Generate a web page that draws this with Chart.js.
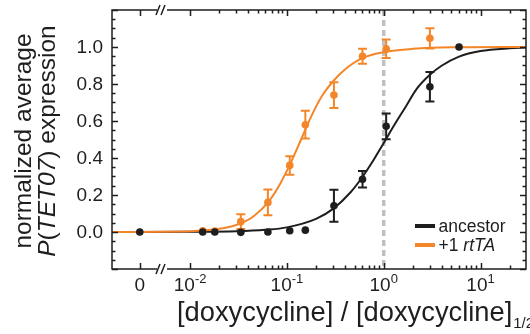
<!DOCTYPE html>
<html>
<head>
<meta charset="utf-8">
<script src="https://cdn.jsdelivr.net/npm/chart.js@4.4.1/dist/chart.umd.min.js"></script>
<style>
  html, body { margin: 0; padding: 0; background: #fff; }
</style>
</head>
<body>
<canvas id="chart" width="530" height="334"></canvas>
<script>
// x axis is log scaled with a break; the zero dose is parked left of the break
const ZERO_POS = 0.00302;
const X_MIN = 0.00156;
const X_MAX = 29.5;

const BLACK = '#1e1e1e';
const ORANGE = '#f4862a';
const FONT = "'Liberation Sans', Arial, sans-serif";

// measured points
const doses = [0, 0.0135, 0.018, 0.0334, 0.0636, 0.107, 0.155, 0.306, 0.604, 1.06, 3.0, 6.0];
const ancestor = [0, 0, 0, -0.002, 0, 0.007, 0.01, 0.142, 0.285, 0.571, 0.785, 1.0];
const ancestorErr = [0, 0, 0, 0, 0, 0, 0, 0.087, 0.045, 0.07, 0.08, 0];
const rtta = [null, 0.006, 0.005, 0.056, 0.16, 0.36, 0.58, 0.74, 0.95, 0.99, 1.047, null];
const rttaErr = [0, 0, 0, 0.04, 0.07, 0.05, 0.075, 0.07, 0.04, 0.05, 0.055, 0];

// fitted curves
const ancestorFitX = [0.00156, 0.01, 0.03, 0.06, 0.1, 0.2, 0.3, 0.45, 0.6, 0.8, 1.0, 1.3, 1.7, 2.2, 3.0, 4.0, 6.0, 10, 20, 29.5];
const ancestorFitY = [0, 0.001, 0.004, 0.012, 0.025, 0.071, 0.125, 0.212, 0.296, 0.396, 0.481, 0.582, 0.68, 0.775, 0.85, 0.9, 0.948, 0.978, 0.993, 0.997];
const rttaFitX = [0.00156, 0.01, 0.02, 0.03, 0.045, 0.065, 0.085, 0.11, 0.14, 0.18, 0.23, 0.3, 0.4, 0.6, 1.0, 2.0, 5.0, 29.5];
const rttaFitY = [0, 0.004, 0.017, 0.038, 0.084, 0.166, 0.26, 0.376, 0.5, 0.629, 0.735, 0.815, 0.88, 0.94, 0.972, 0.99, 0.998, 1.0];

// axis ticks
const xMajorTicks = [0, 0.01, 0.1, 1, 10];
const xTickExps = [null, '-2', '-1', '0', '1'];
const yLabelTicks = [0, 0.2, 0.4, 0.6, 0.8, 1.0];

const xOf = (d) => (d === 0 ? ZERO_POS : d);
const pts = (xs, ys) => xs.map((d, i) => ({ x: xOf(d), y: ys[i] })).filter((p) => p.y !== null);

const font = (size, italic) => (italic ? 'italic ' : '') + size + 'px ' + FONT;

// draw a run of [text, italic] pieces starting at x
const drawRuns = (ctx, runs, x, y, size) => {
  runs.forEach(([txt, it]) => {
    ctx.font = font(size, it);
    ctx.fillText(txt, x, y);
    x += ctx.measureText(txt).width;
  });
};
const runsWidth = (ctx, runs, size) => runs.reduce((w, [txt, it]) => {
  ctx.font = font(size, it);
  return w + ctx.measureText(txt).width;
}, 0);

const decor = {
  id: 'decor',
  beforeDatasetsDraw(chart) {
    const { ctx, chartArea: a, scales: { x } } = chart;
    const px = x.getPixelForValue(1);
    ctx.save();
    ctx.strokeStyle = '#bfc0c4';
    ctx.lineWidth = 3.5;
    ctx.setLineDash([6, 4]);
    ctx.beginPath();
    ctx.moveTo(px, a.top);
    ctx.lineTo(px, a.bottom);
    ctx.stroke();
    ctx.restore();
  },
  afterDatasetDraw(chart, args) {
    const ds = chart.data.datasets[args.index];
    if (!ds.errors) return;
    const { ctx, scales: { x, y } } = chart;
    ctx.save();
    ctx.strokeStyle = ds.borderColor;
    ctx.lineWidth = 2;
    ds.data.forEach((p, i) => {
      const e = ds.errors[i];
      if (!e) return;
      const px = x.getPixelForValue(p.x);
      const y1 = y.getPixelForValue(p.y - e);
      const y2 = y.getPixelForValue(p.y + e);
      ctx.beginPath();
      ctx.moveTo(px, y1); ctx.lineTo(px, y2);
      ctx.moveTo(px - 4.5, y1); ctx.lineTo(px + 4.5, y1);
      ctx.moveTo(px - 4.5, y2); ctx.lineTo(px + 4.5, y2);
      ctx.stroke();
    });
    ctx.restore();
  },
  afterDraw(chart) {
    const { ctx, chartArea: a, scales: { x, y } } = chart;
    ctx.save();
    ctx.strokeStyle = BLACK;
    ctx.fillStyle = BLACK;
    ctx.lineWidth = 1.5;

    // frame
    ctx.strokeRect(a.left, a.top, a.right - a.left, a.bottom - a.top);

    // y ticks, both sides, pointing in
    for (let k = -4; k <= 24; k++) {
      const v = k * 0.05;
      const py = Math.round(y.getPixelForValue(v)) + 0.5;
      const len = k % 4 === 0 ? 6 : 3.5;
      ctx.beginPath();
      ctx.moveTo(a.left, py); ctx.lineTo(a.left + len, py);
      ctx.moveTo(a.right, py); ctx.lineTo(a.right - len, py);
      ctx.stroke();
    }

    // x ticks, top and bottom
    const xt = [[ZERO_POS, true]];
    for (let e = -2; e <= 1; e++) {
      for (let m = 1; m <= 9; m++) {
        const v = m * Math.pow(10, e);
        if (v <= X_MAX) xt.push([v, m === 1]);
      }
    }
    xt.forEach(([v, major]) => {
      const px = Math.round(x.getPixelForValue(v)) + 0.5;
      const len = major ? 6 : 3.5;
      ctx.beginPath();
      ctx.moveTo(px, a.bottom); ctx.lineTo(px, a.bottom - len);
      ctx.moveTo(px, a.top); ctx.lineTo(px, a.top + len);
      ctx.stroke();
    });

    // axis break marks
    const xb = 162;
    [a.top, a.bottom].forEach((ay) => {
      ctx.fillStyle = '#fff';
      ctx.fillRect(xb - 5, ay - 2, 10, 4);
      ctx.beginPath();
      ctx.moveTo(xb - 6, ay + 5); ctx.lineTo(xb - 2, ay - 5);
      ctx.moveTo(xb - 1, ay + 5); ctx.lineTo(xb + 3, ay - 5);
      ctx.stroke();
    });
    ctx.fillStyle = BLACK;

    // y tick labels
    ctx.font = font(19);
    ctx.textAlign = 'right';
    ctx.textBaseline = 'middle';
    yLabelTicks.forEach((v) => ctx.fillText(v.toFixed(1), 103, y.getPixelForValue(v) + 1));

    // x tick labels with superscripts
    ctx.textAlign = 'left';
    ctx.textBaseline = 'alphabetic';
    xMajorTicks.forEach((v, i) => {
      const cx = x.getPixelForValue(xOf(v));
      const exp = xTickExps[i];
      if (exp === null) {
        ctx.font = font(19);
        const w = ctx.measureText('0').width;
        ctx.fillText('0', cx - w / 2, 291);
        return;
      }
      ctx.font = font(19);
      const w1 = ctx.measureText('10').width;
      ctx.font = font(13);
      const w2 = ctx.measureText(exp).width;
      const sx = cx - (w1 + w2) / 2;
      ctx.font = font(19);
      ctx.fillText('10', sx, 291);
      ctx.font = font(13);
      ctx.fillText(exp, sx + w1, 283);
    });

    // x title
    const xTitle = '[doxycycline] / [doxycycline]';
    ctx.font = font(27.3);
    const tw = ctx.measureText(xTitle).width;
    ctx.fillText(xTitle, 177, 321);
    ctx.font = font(15);
    ctx.fillText('1/2', 177 + tw + 1, 328);

    // y title, two rotated lines
    const line1 = [['normalized average', false]];
    const line2 = [['P', true], ['(', false], ['TET07', true], [')', false], [' expression', false]];
    [[line1, 31], [line2, 55]].forEach(([runs, bx]) => {
      ctx.save();
      ctx.translate(bx, 141);
      ctx.rotate(-Math.PI / 2);
      const w = runsWidth(ctx, runs, 24.5);
      drawRuns(ctx, runs, -w / 2, 0, 24.5);
      ctx.restore();
    });

    // legend
    const legend = [
      [BLACK, 226, [['ancestor', false]]],
      [ORANGE, 245, [['+1 ', false], ['rtTA', true]]]
    ];
    legend.forEach(([col, ly, runs]) => {
      ctx.strokeStyle = col;
      ctx.lineWidth = 4;
      ctx.beginPath();
      ctx.moveTo(415, ly); ctx.lineTo(435, ly);
      ctx.stroke();
      ctx.fillStyle = BLACK;
      drawRuns(ctx, runs, 438.5, ly + 5.5, 17.5);
    });
    ctx.restore();
  }
};

new Chart(document.getElementById('chart'), {
  type: 'scatter',
  data: {
    datasets: [
      {
        label: 'ancestor points',
        data: pts(doses, ancestor),
        errors: ancestorErr,
        backgroundColor: BLACK,
        borderColor: BLACK,
        pointRadius: 3.8,
        pointBorderWidth: 0,
        showLine: false,
        order: 0
      },
      {
        label: '+1 rtTA points',
        data: pts(doses, rtta),
        errors: rttaErr.filter((e, i) => rtta[i] !== null),
        backgroundColor: ORANGE,
        borderColor: ORANGE,
        pointRadius: 3.8,
        pointBorderWidth: 0,
        showLine: false,
        order: 1
      },
      {
        label: '+1 rtTA fit',
        data: pts(rttaFitX, rttaFitY),
        borderColor: ORANGE,
        borderWidth: 2,
        pointRadius: 0,
        showLine: true,
        cubicInterpolationMode: 'monotone',
        order: 2
      },
      {
        label: 'ancestor fit',
        data: pts(ancestorFitX, ancestorFitY),
        borderColor: BLACK,
        borderWidth: 2,
        pointRadius: 0,
        showLine: true,
        cubicInterpolationMode: 'monotone',
        order: 3
      }
    ]
  },
  options: {
    responsive: false,
    animation: false,
    events: [],
    layout: { padding: { left: 112, top: 10, right: 1, bottom: 65 } },
    plugins: { legend: { display: false }, tooltip: { enabled: false } },
    scales: {
      x: { type: 'logarithmic', min: X_MIN, max: X_MAX, bounds: 'data', display: false },
      y: { type: 'linear', min: -0.2, max: 1.2, bounds: 'data', display: false }
    }
  },
  plugins: [decor]
});
</script>
</body>
</html>
